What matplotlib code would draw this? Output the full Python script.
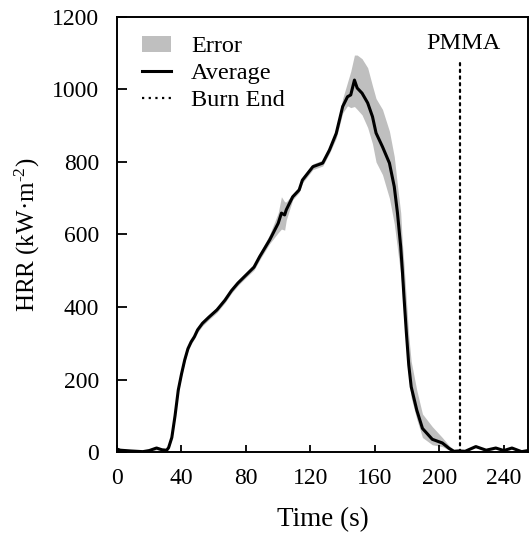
import matplotlib
matplotlib.use("Agg")
import matplotlib.pyplot as plt
import numpy as np
from matplotlib.patches import Patch
from matplotlib.lines import Line2D

plt.rcParams['font.family'] = ['Liberation Serif', 'DejaVu Serif']
plt.rcParams['mathtext.fontset'] = 'custom'
plt.rcParams['mathtext.rm'] = 'Liberation Serif'
plt.rcParams['mathtext.it'] = 'Liberation Serif:italic'
plt.rcParams['mathtext.bf'] = 'Liberation Serif:bold'

time = [0, 2, 8, 16, 20, 24.5, 28, 30.8, 32, 34, 36, 38, 40, 42, 44, 46, 48, 50, 53, 57, 62, 67, 71,
        75, 80, 85, 88.5, 94.7, 100, 102, 104, 105, 109, 113, 115, 121.5, 127.6, 131.8, 136, 140,
        143, 145, 147.3, 149, 152, 155.5, 158.5, 160.7, 164.7, 169, 172, 174, 176, 177, 178,
        179.5, 181, 182.5, 186, 189.5, 195.6, 201.8, 206, 209, 212, 216, 222.6, 229, 235, 240,
        245, 251, 255]
avg = [8, 5, 3, 1, 4, 11, 6, 5, 12, 40, 100, 171, 215, 254, 285, 304, 318, 337, 355, 372, 392,
       419, 445, 466, 488, 510, 539, 585, 631, 659, 654, 668, 704, 723, 750, 787, 797, 833, 879, 953,
       980, 985, 1026, 1004, 990, 963, 925, 880, 842, 797, 732, 659, 566, 502, 430,
       330, 240, 180, 115, 65, 35, 25, 10, 2, 3, 2, 15, 5, 11, 4,
       11, 1, 4]
upper = [12, 9, 7, 5, 8, 16, 10, 9, 16, 45, 106, 178, 221, 260, 291, 310, 324, 344, 362, 379, 399,
         426, 452, 473, 495, 518, 548, 600, 660, 704, 690, 690, 712, 730, 758, 795, 805, 842, 892, 975,
         1020, 1050, 1095, 1095, 1085, 1060, 1010, 975, 945, 885, 815, 735, 660, 577, 520,
         420, 320, 250, 170, 105, 70, 40, 18, 6, 6, 5, 18, 8, 14, 7,
         14, 4, 7]
lower = [4, 1, 0, 0, 0, 6, 2, 1, 8, 35, 94, 164, 209, 248, 279, 298, 312, 330, 348, 365, 385,
         412, 438, 459, 481, 502, 530, 575, 605, 615, 612, 640, 696, 716, 742, 779, 789, 824, 866, 935,
         955, 950, 953, 945, 930, 895, 850, 800, 765, 700, 630, 560, 490, 445, 375,
         285, 205, 150, 90, 40, 20, 15, 5, 0, 0, 0, 12, 2, 8, 1,
         8, 0, 1]

burn_end = 213
burn_top = 1073
x_ticks = [0, 40, 80, 120, 160, 200, 240]
y_ticks = [0, 200, 400, 600, 800, 1000, 1200]

fig = plt.figure(figsize=(5.30, 5.41), dpi=100)
ax = fig.add_axes([0.2208, 0.1645, 0.7755, 0.8041])

ax.fill_between(time, lower, upper, color='#bfbfbf', linewidth=0, zorder=1)
ax.plot(time, avg, color='black', linewidth=2.2, zorder=3)
ax.plot([burn_end, burn_end], [0, burn_top], color='black', linewidth=1.6,
        linestyle=(0, (1, 2)), dash_capstyle='round', zorder=2)
ax.text(215, 1126, 'PMMA', fontsize=17.5, ha='center', va='center')

ax.set_xlim(0, 255)
ax.set_ylim(0, 1200)
ax.set_xticks(x_ticks)
ax.set_yticks(y_ticks)
ax.tick_params(axis='both', direction='in', labelsize=17, width=1.3)
ax.tick_params(axis='x', length=5, pad=11.5)
ax.tick_params(axis='y', length=7, pad=13)
for s in ax.spines.values():
    s.set_linewidth(1.4)

ax.set_xlabel('Time (s)', fontsize=19.5, labelpad=13)
ax.set_ylabel(r'HRR (kW·m$^{\text{-2}}$)', fontsize=18, labelpad=7)

handles = [Patch(facecolor='#bfbfbf', edgecolor='none'),
           Line2D([], [], color='black', linewidth=2.2),
           Line2D([], [], color='black', linewidth=1.6, linestyle=(0, (1, 2)))]
ax.legend(handles, ['Error', 'Average', 'Burn End'], loc='upper left', frameon=False,
          fontsize=17.5, handlelength=1.2, handleheight=0.6, handletextpad=0.8,
          labelspacing=0.22, borderaxespad=0.3, bbox_to_anchor=(0.02, 0.995))

fig.savefig('out.png', dpi=100)
